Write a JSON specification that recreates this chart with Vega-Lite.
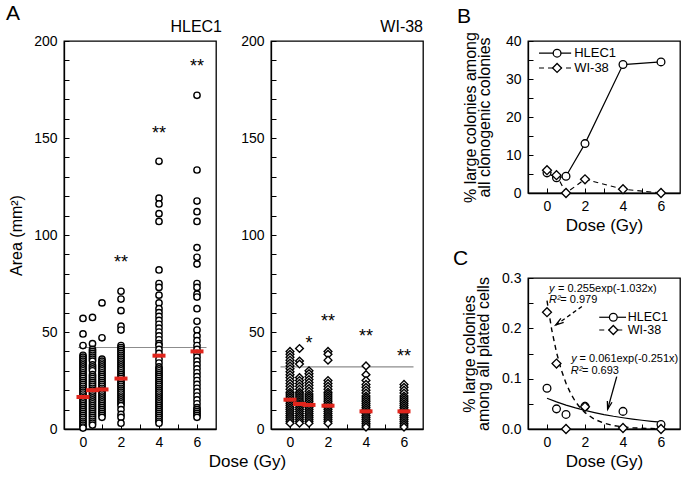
{
"$schema": "https://vega.github.io/schema/vega-lite/v6.json",
"background": "white",
"padding": {"left": 5, "top": 2, "right": 2, "bottom": 2},
"config": {
  "font": "Liberation Sans",
  "view": {"stroke": "black", "strokeWidth": 1.3},
  "axis": {"grid": false, "domainColor": "black", "domainWidth": 1.3, "tickColor": "black", "tickWidth": 1, "tickSize": -5, "labelPadding": 11, "labelFontSize": 14, "labelColor": "black", "titleFontSize": 16, "titleFontWeight": "normal", "titleColor": "black"},
  "axisY": {"labelPadding": 12}
},
"datasets": {
  "hlec": [
    {"dose":0,"val":57},{"dose":0,"val":49},{"dose":0,"val":43},{"dose":0,"val":38},{"dose":0,"val":37},{"dose":0,"val":36},{"dose":0,"val":35},{"dose":0,"val":34},{"dose":0,"val":33},{"dose":0,"val":32},{"dose":0,"val":31},{"dose":0,"val":30},{"dose":0,"val":29},{"dose":0,"val":28},{"dose":0,"val":27},{"dose":0,"val":26},{"dose":0,"val":25},{"dose":0,"val":24},{"dose":0,"val":23},{"dose":0,"val":22},{"dose":0,"val":21},{"dose":0,"val":20},{"dose":0,"val":19},{"dose":0,"val":18},{"dose":0,"val":17},{"dose":0,"val":16},{"dose":0,"val":15},{"dose":0,"val":14},{"dose":0,"val":13},{"dose":0,"val":12},{"dose":0,"val":11},{"dose":0,"val":10},{"dose":0,"val":9},{"dose":0,"val":8},{"dose":0,"val":7},{"dose":0,"val":6},{"dose":0,"val":5},{"dose":0,"val":4},{"dose":0,"val":3},{"dose":0,"val":2},{"dose":0,"val":1},{"dose":0,"val":0.5},
    {"dose":0.5,"val":57.5},{"dose":0.5,"val":44},{"dose":0.5,"val":41},{"dose":0.5,"val":40},{"dose":0.5,"val":39},{"dose":0.5,"val":38},{"dose":0.5,"val":37},{"dose":0.5,"val":36},{"dose":0.5,"val":35},{"dose":0.5,"val":33},{"dose":0.5,"val":32},{"dose":0.5,"val":31},{"dose":0.5,"val":30},{"dose":0.5,"val":28},{"dose":0.5,"val":27},{"dose":0.5,"val":26},{"dose":0.5,"val":25},{"dose":0.5,"val":24},{"dose":0.5,"val":23},{"dose":0.5,"val":22},{"dose":0.5,"val":21},{"dose":0.5,"val":20},{"dose":0.5,"val":19},{"dose":0.5,"val":18},{"dose":0.5,"val":17},{"dose":0.5,"val":16},{"dose":0.5,"val":15},{"dose":0.5,"val":14},{"dose":0.5,"val":13},{"dose":0.5,"val":12},{"dose":0.5,"val":11},{"dose":0.5,"val":10},{"dose":0.5,"val":9},{"dose":0.5,"val":8},{"dose":0.5,"val":7},{"dose":0.5,"val":6},{"dose":0.5,"val":5},{"dose":0.5,"val":4},{"dose":0.5,"val":3},{"dose":0.5,"val":2},
    {"dose":1,"val":65},{"dose":1,"val":47},{"dose":1,"val":36},{"dose":1,"val":35},{"dose":1,"val":34},{"dose":1,"val":33},{"dose":1,"val":32},{"dose":1,"val":31},{"dose":1,"val":30},{"dose":1,"val":29},{"dose":1,"val":28},{"dose":1,"val":27},{"dose":1,"val":26},{"dose":1,"val":25},{"dose":1,"val":24},{"dose":1,"val":23},{"dose":1,"val":22},{"dose":1,"val":21},{"dose":1,"val":20},{"dose":1,"val":19},{"dose":1,"val":18},{"dose":1,"val":17},{"dose":1,"val":16},{"dose":1,"val":15},{"dose":1,"val":14},{"dose":1,"val":13},{"dose":1,"val":12},{"dose":1,"val":11},{"dose":1,"val":10},{"dose":1,"val":9},{"dose":1,"val":8},{"dose":1,"val":7},{"dose":1,"val":6},
    {"dose":2,"val":71},{"dose":2,"val":67},{"dose":2,"val":61},{"dose":2,"val":53},{"dose":2,"val":51},{"dose":2,"val":43},{"dose":2,"val":42},{"dose":2,"val":41},{"dose":2,"val":40},{"dose":2,"val":39},{"dose":2,"val":38},{"dose":2,"val":37},{"dose":2,"val":36},{"dose":2,"val":35},{"dose":2,"val":34},{"dose":2,"val":33},{"dose":2,"val":32},{"dose":2,"val":31},{"dose":2,"val":30},{"dose":2,"val":29},{"dose":2,"val":28},{"dose":2,"val":27},{"dose":2,"val":26},{"dose":2,"val":25},{"dose":2,"val":24},{"dose":2,"val":23},{"dose":2,"val":22},{"dose":2,"val":21},{"dose":2,"val":20},{"dose":2,"val":19},{"dose":2,"val":18},{"dose":2,"val":17},{"dose":2,"val":16},{"dose":2,"val":15},{"dose":2,"val":14},{"dose":2,"val":13},{"dose":2,"val":12},{"dose":2,"val":10},{"dose":2,"val":7.5},{"dose":2,"val":6},{"dose":2,"val":3},
    {"dose":4,"val":138},{"dose":4,"val":119},{"dose":4,"val":116},{"dose":4,"val":111},{"dose":4,"val":107},{"dose":4,"val":82},{"dose":4,"val":75},{"dose":4,"val":73},{"dose":4,"val":69},{"dose":4,"val":65},{"dose":4,"val":62},{"dose":4,"val":60},{"dose":4,"val":58},{"dose":4,"val":56},{"dose":4,"val":54},{"dose":4,"val":52},{"dose":4,"val":50},{"dose":4,"val":48},{"dose":4,"val":46},{"dose":4,"val":44},{"dose":4,"val":43},{"dose":4,"val":41},{"dose":4,"val":39},{"dose":4,"val":36},{"dose":4,"val":34},{"dose":4,"val":32},{"dose":4,"val":31},{"dose":4,"val":30},{"dose":4,"val":29},{"dose":4,"val":28},{"dose":4,"val":27},{"dose":4,"val":26},{"dose":4,"val":25},{"dose":4,"val":24},{"dose":4,"val":23},{"dose":4,"val":22},{"dose":4,"val":21},{"dose":4,"val":20},{"dose":4,"val":19},{"dose":4,"val":18},{"dose":4,"val":17},{"dose":4,"val":16},{"dose":4,"val":15},{"dose":4,"val":14},{"dose":4,"val":13},{"dose":4,"val":12},{"dose":4,"val":11},{"dose":4,"val":10},{"dose":4,"val":9},{"dose":4,"val":8},{"dose":4,"val":7},{"dose":4,"val":6},{"dose":4,"val":5},{"dose":4,"val":4},{"dose":4,"val":3},
    {"dose":6,"val":172},{"dose":6,"val":133.5},{"dose":6,"val":117.5},{"dose":6,"val":112},{"dose":6,"val":107},{"dose":6,"val":93.5},{"dose":6,"val":88.5},{"dose":6,"val":85},{"dose":6,"val":75},{"dose":6,"val":73},{"dose":6,"val":69.5},{"dose":6,"val":68},{"dose":6,"val":62},{"dose":6,"val":55.5},{"dose":6,"val":51},{"dose":6,"val":48},{"dose":6,"val":45.5},{"dose":6,"val":43},{"dose":6,"val":41},{"dose":6,"val":39},{"dose":6,"val":37},{"dose":6,"val":35},{"dose":6,"val":33},{"dose":6,"val":31},{"dose":6,"val":29},{"dose":6,"val":27},{"dose":6,"val":25},{"dose":6,"val":23},{"dose":6,"val":21},{"dose":6,"val":19},{"dose":6,"val":17},{"dose":6,"val":15},{"dose":6,"val":13},{"dose":6,"val":11},{"dose":6,"val":10},{"dose":6,"val":9},{"dose":6,"val":8},{"dose":6,"val":7},{"dose":6,"val":6}
  ],
  "wi": [
    {"dose":0,"val":40},{"dose":0,"val":38.5},{"dose":0,"val":37},{"dose":0,"val":35.5},{"dose":0,"val":34},{"dose":0,"val":32.5},{"dose":0,"val":31},{"dose":0,"val":29.5},{"dose":0,"val":28},{"dose":0,"val":26.5},{"dose":0,"val":25},{"dose":0,"val":23.5},{"dose":0,"val":22},{"dose":0,"val":20.5},{"dose":0,"val":19},{"dose":0,"val":18},{"dose":0,"val":17},{"dose":0,"val":16},{"dose":0,"val":15},{"dose":0,"val":14},{"dose":0,"val":13},{"dose":0,"val":12},{"dose":0,"val":11},{"dose":0,"val":10},{"dose":0,"val":9},{"dose":0,"val":8},{"dose":0,"val":7},{"dose":0,"val":6},{"dose":0,"val":5},{"dose":0,"val":4},{"dose":0,"val":3},
    {"dose":0.5,"val":41.5},{"dose":0.5,"val":35},{"dose":0.5,"val":33.5},{"dose":0.5,"val":26.5},{"dose":0.5,"val":25},{"dose":0.5,"val":23.5},{"dose":0.5,"val":22},{"dose":0.5,"val":20.5},{"dose":0.5,"val":19},{"dose":0.5,"val":18},{"dose":0.5,"val":17},{"dose":0.5,"val":16},{"dose":0.5,"val":15},{"dose":0.5,"val":14},{"dose":0.5,"val":13},{"dose":0.5,"val":12},{"dose":0.5,"val":11},{"dose":0.5,"val":10},{"dose":0.5,"val":9},{"dose":0.5,"val":8},{"dose":0.5,"val":7},{"dose":0.5,"val":6},{"dose":0.5,"val":5},{"dose":0.5,"val":4},{"dose":0.5,"val":3},
    {"dose":1,"val":30},{"dose":1,"val":28.5},{"dose":1,"val":27},{"dose":1,"val":25.5},{"dose":1,"val":24},{"dose":1,"val":22.5},{"dose":1,"val":21},{"dose":1,"val":19.5},{"dose":1,"val":18},{"dose":1,"val":17},{"dose":1,"val":16},{"dose":1,"val":15},{"dose":1,"val":14},{"dose":1,"val":13},{"dose":1,"val":12},{"dose":1,"val":11},{"dose":1,"val":10},{"dose":1,"val":9},{"dose":1,"val":8},{"dose":1,"val":7},{"dose":1,"val":6},{"dose":1,"val":5},{"dose":1,"val":4},{"dose":1,"val":3},
    {"dose":2,"val":40},{"dose":2,"val":38.5},{"dose":2,"val":35.5},{"dose":2,"val":25},{"dose":2,"val":23.5},{"dose":2,"val":22},{"dose":2,"val":20.5},{"dose":2,"val":19},{"dose":2,"val":18},{"dose":2,"val":17},{"dose":2,"val":16},{"dose":2,"val":15},{"dose":2,"val":14},{"dose":2,"val":13},{"dose":2,"val":12},{"dose":2,"val":11},{"dose":2,"val":10},{"dose":2,"val":9},{"dose":2,"val":8},{"dose":2,"val":7},{"dose":2,"val":6},{"dose":2,"val":5},{"dose":2,"val":4},{"dose":2,"val":3},
    {"dose":4,"val":32.5},{"dose":4,"val":28},{"dose":4,"val":25},{"dose":4,"val":23},{"dose":4,"val":21.5},{"dose":4,"val":20},{"dose":4,"val":18.5},{"dose":4,"val":17},{"dose":4,"val":16},{"dose":4,"val":15},{"dose":4,"val":14},{"dose":4,"val":13},{"dose":4,"val":12},{"dose":4,"val":11},{"dose":4,"val":10},{"dose":4,"val":9},{"dose":4,"val":8},{"dose":4,"val":7},{"dose":4,"val":6},{"dose":4,"val":5},{"dose":4,"val":4},{"dose":4,"val":3},{"dose":4,"val":2},{"dose":4,"val":1},
    {"dose":6,"val":23},{"dose":6,"val":21.5},{"dose":6,"val":20},{"dose":6,"val":18.5},{"dose":6,"val":17},{"dose":6,"val":16},{"dose":6,"val":15},{"dose":6,"val":14},{"dose":6,"val":13},{"dose":6,"val":12},{"dose":6,"val":11},{"dose":6,"val":10},{"dose":6,"val":9},{"dose":6,"val":8},{"dose":6,"val":7},{"dose":6,"val":6},{"dose":6,"val":5},{"dose":6,"val":4},{"dose":6,"val":3},{"dose":6,"val":2},{"dose":6,"val":1}
  ],
  "bH": [{"dose":0,"val":5.3},{"dose":0.5,"val":4.0},{"dose":1,"val":4.4},{"dose":2,"val":13},{"dose":4,"val":33.8},{"dose":6,"val":34.5}],
  "bW": [{"dose":0,"val":6.0},{"dose":0.5,"val":4.7},{"dose":1,"val":0},{"dose":2,"val":3.6},{"dose":4,"val":1.0},{"dose":6,"val":0}],
  "cH": [{"dose":0,"val":0.081},{"dose":0.5,"val":0.040},{"dose":1,"val":0.029},{"dose":2,"val":0.045},{"dose":4,"val":0.035},{"dose":6,"val":0.009}],
  "cW": [{"dose":0,"val":0.232},{"dose":0.5,"val":0.130},{"dose":1,"val":0.0},{"dose":2,"val":0.044},{"dose":4,"val":0.002},{"dose":6,"val":0.0}],
  "fitH": [{"dose":0,"val":0.061},{"dose":0.5,"val":0.0538},{"dose":1,"val":0.0475},{"dose":1.5,"val":0.0419},{"dose":2,"val":0.0369},{"dose":2.5,"val":0.0326},{"dose":3,"val":0.0287},{"dose":3.5,"val":0.0253},{"dose":4,"val":0.0224},{"dose":4.5,"val":0.0197},{"dose":5,"val":0.0174},{"dose":5.5,"val":0.0153},{"dose":6,"val":0.0135}],
  "fitW": [{"dose":0,"val":0.255},{"dose":0.25,"val":0.197},{"dose":0.5,"val":0.1522},{"dose":0.75,"val":0.1176},{"dose":1,"val":0.0909},{"dose":1.25,"val":0.0702},{"dose":1.5,"val":0.0542},{"dose":1.75,"val":0.0419},{"dose":2,"val":0.0324},{"dose":2.5,"val":0.0193},{"dose":3,"val":0.0115},{"dose":3.5,"val":0.0069},{"dose":4,"val":0.0041},{"dose":4.5,"val":0.0025},{"dose":5,"val":0.0015},{"dose":5.5,"val":0.0009},{"dose":6,"val":0.0005}]
},
"spacing": 28,
"hconcat": [
 {
  "bounds": "flush",
  "spacing": 55,
  "hconcat": [
   {
    "width": 152, "height": 388,
    "encoding": {
      "x": {"field": "dose", "type": "quantitative", "scale": {"domain": [-1, 7], "nice": false}, "axis": {"values": [0,1,2,3,4,5,6], "labelExpr": "datum.value % 2 === 0 ? datum.label : ''", "title": "Dose (Gy)", "titleX": 183, "titleFontSize": 17}},
      "y": {"field": "val", "type": "quantitative", "scale": {"domain": [0, 200], "nice": false}, "axis": {"values": [0,10,20,30,40,50,60,70,80,90,100,110,120,130,140,150,160,170,180,190,200], "labelExpr": "datum.value % 50 === 0 ? datum.label : ''", "title": "Area (mm²)", "titlePadding": 9}}
    },
    "layer": [
      {"data": {"values": [{"dose": -0.25, "dose2": 6.5, "val": 42}]}, "mark": {"type": "rule", "color": "#8c8c8c", "strokeWidth": 1.2}, "encoding": {"x2": {"field": "dose2"}}},
      {"data": {"name": "hlec"}, "mark": {"type": "point", "shape": "circle", "size": 40, "filled": true, "fill": "white", "stroke": "black", "strokeWidth": 1.4, "opacity": 1}},
      {"data": {"values": [{"dose":0,"val":16.5},{"dose":0.5,"val":20},{"dose":1,"val":20.4},{"dose":2,"val":26},{"dose":4,"val":37.8},{"dose":6,"val":40}]}, "mark": {"type": "tick", "orient": "horizontal", "color": "#e0251c", "size": 13, "thickness": 4, "opacity": 1}},
      {"data": {"values": [{"dose":2,"val":88,"t":"**"},{"dose":4,"val":154.5,"t":"**"},{"dose":6,"val":189,"t":"**"}]}, "mark": {"type": "text", "fontSize": 18, "baseline": "middle", "dy": 5}, "encoding": {"text": {"field": "t"}}},
      {"data": {"values": [{"dose":7,"val":200,"t":"HLEC1"}]}, "mark": {"type": "text", "fontSize": 16, "align": "right", "baseline": "alphabetic", "dx": 6, "dy": -9}, "encoding": {"text": {"field": "t"}}},
      {"data": {"values": [{"dose":-1,"val":200,"t":"A"}]}, "mark": {"type": "text", "fontSize": 21, "align": "left", "baseline": "alphabetic", "dx": -58, "dy": -21}, "encoding": {"text": {"field": "t"}}}
    ]
   },
   {
    "width": 152, "height": 388,
    "encoding": {
      "x": {"field": "dose", "type": "quantitative", "scale": {"domain": [-1, 7], "nice": false}, "axis": {"values": [0,1,2,3,4,5,6], "labelExpr": "datum.value % 2 === 0 ? datum.label : ''", "title": null}},
      "y": {"field": "val", "type": "quantitative", "scale": {"domain": [0, 200], "nice": false}, "axis": {"values": [0,10,20,30,40,50,60,70,80,90,100,110,120,130,140,150,160,170,180,190,200], "labelExpr": "datum.value % 50 === 0 ? datum.label : ''", "title": null}}
    },
    "layer": [
      {"data": {"values": [{"dose": -0.5, "dose2": 6.5, "val": 32}]}, "mark": {"type": "rule", "color": "#8c8c8c", "strokeWidth": 1.2}, "encoding": {"x2": {"field": "dose2"}}},
      {"data": {"name": "wi"}, "mark": {"type": "point", "shape": "diamond", "size": 60, "filled": true, "fill": "white", "stroke": "black", "strokeWidth": 1.4, "opacity": 1}},
      {"data": {"values": [{"dose":0,"val":15.1},{"dose":0.5,"val":12.9},{"dose":1,"val":12.4},{"dose":2,"val":12},{"dose":4,"val":9.1},{"dose":6,"val":9.1}]}, "mark": {"type": "tick", "orient": "horizontal", "color": "#e0251c", "size": 13, "thickness": 4, "opacity": 1}},
      {"data": {"values": [{"dose":1,"val":46.4,"t":"*"},{"dose":2,"val":57.5,"t":"**"},{"dose":4,"val":49.8,"t":"**"},{"dose":6,"val":39.5,"t":"**"}]}, "mark": {"type": "text", "fontSize": 18, "baseline": "middle", "dy": 5}, "encoding": {"text": {"field": "t"}}},
      {"data": {"values": [{"dose":7,"val":200,"t":"WI-38"}]}, "mark": {"type": "text", "fontSize": 16, "align": "right", "baseline": "alphabetic", "dx": 0, "dy": -9}, "encoding": {"text": {"field": "t"}}}
    ]
   }
  ]
 },
 {
  "bounds": "flush",
  "spacing": 85,
  "vconcat": [
   {
    "width": 152, "height": 152,
    "encoding": {
      "x": {"field": "dose", "type": "quantitative", "scale": {"domain": [-1, 7], "nice": false}, "axis": {"values": [0,1,2,3,4,5,6], "labelExpr": "datum.value % 2 === 0 ? datum.label : ''", "title": "Dose (Gy)", "titleFontSize": 17}},
      "y": {"field": "val", "type": "quantitative", "scale": {"domain": [0, 40], "nice": false}, "axis": {"values": [0,5,10,15,20,25,30,35,40], "labelExpr": "datum.value % 10 === 0 ? datum.label : ''", "title": ["% large colonies among", "all clonogenic colonies"], "titleLineHeight": 14, "titlePadding": 13}}
    },
    "layer": [
      {"data": {"name": "bH"}, "mark": {"type": "line", "color": "black", "strokeWidth": 1.2}, "encoding": {}},
      {"data": {"name": "bW"}, "mark": {"type": "line", "color": "black", "strokeWidth": 1.2, "strokeDash": [5, 4]}, "encoding": {}},
      {"data": {"name": "bH"}, "mark": {"type": "point", "shape": "circle", "size": 60, "filled": true, "fill": "white", "stroke": "black", "strokeWidth": 1.3, "opacity": 1}},
      {"data": {"name": "bW"}, "mark": {"type": "point", "shape": "diamond", "size": 80, "filled": true, "fill": "white", "stroke": "black", "strokeWidth": 1.3, "opacity": 1}},
      {"data": {"values": [{"dose": -0.42, "dose2": 1.27, "val": 36.8}]}, "mark": {"type": "rule", "color": "black", "strokeWidth": 1.2}, "encoding": {"x2": {"field": "dose2"}}},
      {"data": {"values": [{"dose": -0.42, "dose2": 1.27, "val": 32.9}]}, "mark": {"type": "rule", "color": "black", "strokeWidth": 1.2, "strokeDash": [5, 4]}, "encoding": {"x2": {"field": "dose2"}}},
      {"data": {"values": [{"dose": 0.53, "val": 36.8}]}, "mark": {"type": "point", "shape": "circle", "size": 60, "filled": true, "fill": "white", "stroke": "black", "strokeWidth": 1.3, "opacity": 1}},
      {"data": {"values": [{"dose": 0.53, "val": 32.9}]}, "mark": {"type": "point", "shape": "diamond", "size": 80, "filled": true, "fill": "white", "stroke": "black", "strokeWidth": 1.3, "opacity": 1}},
      {"data": {"values": [{"dose": 1.43, "val": 36.8, "t": "HLEC1"}, {"dose": 1.43, "val": 32.9, "t": "WI-38"}]}, "mark": {"type": "text", "fontSize": 13, "align": "left", "baseline": "middle"}, "encoding": {"text": {"field": "t"}}},
      {"data": {"values": [{"dose":-1,"val":40,"t":"B"}]}, "mark": {"type": "text", "fontSize": 21, "align": "left", "baseline": "alphabetic", "dx": -71, "dy": -18}, "encoding": {"text": {"field": "t"}}}
    ]
   },
   {
    "width": 152, "height": 151,
    "encoding": {
      "x": {"field": "dose", "type": "quantitative", "scale": {"domain": [-1, 7], "nice": false}, "axis": {"values": [0,1,2,3,4,5,6], "labelExpr": "datum.value % 2 === 0 ? datum.label : ''", "title": "Dose (Gy)", "titleFontSize": 17}},
      "y": {"field": "val", "type": "quantitative", "scale": {"domain": [0, 0.3], "nice": false}, "axis": {"values": [0,0.05,0.1,0.15,0.2,0.25,0.3], "labelExpr": "abs(datum.value*10 - round(datum.value*10)) < 0.001 ? format(datum.value, '.1f') : ''", "title": ["% large colonies", "among all plated cells"], "titleLineHeight": 14, "titlePadding": 10}}
    },
    "layer": [
      {"data": {"name": "fitH"}, "mark": {"type": "line", "color": "black", "strokeWidth": 1.2}, "encoding": {}},
      {"data": {"name": "fitW"}, "mark": {"type": "line", "color": "black", "strokeWidth": 1.4, "strokeDash": [5, 4]}, "encoding": {}},
      {"data": {"values": [{"dose": 1.9, "val": 0.245}, {"dose": 0.46, "val": 0.2066}]}, "mark": {"type": "line", "color": "black", "strokeWidth": 1.3, "strokeDash": [4, 3]}, "encoding": {}},
      {"data": {"values": [{"dose": 0.46, "val": 0.2066}]}, "mark": {"type": "point", "shape": "M-0.6,2 L0,0 L0.6,2", "size": 64, "filled": false, "stroke": "black", "strokeWidth": 1.3, "opacity": 1, "angle": 235}},
      {"data": {"values": [{"dose": 3.67, "val": 0.104}, {"dose": 3.19, "val": 0.039}]}, "mark": {"type": "line", "color": "black", "strokeWidth": 1.3}, "encoding": {}},
      {"data": {"values": [{"dose": 3.19, "val": 0.039}]}, "mark": {"type": "point", "shape": "M-0.6,2 L0,0 L0.6,2", "size": 64, "filled": false, "stroke": "black", "strokeWidth": 1.3, "opacity": 1, "angle": 195}},
      {"data": {"name": "cH"}, "mark": {"type": "point", "shape": "circle", "size": 60, "filled": true, "fill": "white", "stroke": "black", "strokeWidth": 1.3, "opacity": 1}},
      {"data": {"name": "cW"}, "mark": {"type": "point", "shape": "diamond", "size": 80, "filled": true, "fill": "white", "stroke": "black", "strokeWidth": 1.3, "opacity": 1}},
      {"data": {"values": [{"dose": 2.75, "dose2": 4.16, "val": 0.222}]}, "mark": {"type": "rule", "color": "black", "strokeWidth": 1.2}, "encoding": {"x2": {"field": "dose2"}}},
      {"data": {"values": [{"dose": 2.75, "dose2": 4.16, "val": 0.1967}]}, "mark": {"type": "rule", "color": "black", "strokeWidth": 1.2, "strokeDash": [5, 4]}, "encoding": {"x2": {"field": "dose2"}}},
      {"data": {"values": [{"dose": 3.49, "val": 0.222}]}, "mark": {"type": "point", "shape": "circle", "size": 60, "filled": true, "fill": "white", "stroke": "black", "strokeWidth": 1.3, "opacity": 1}},
      {"data": {"values": [{"dose": 3.49, "val": 0.1967}]}, "mark": {"type": "point", "shape": "diamond", "size": 80, "filled": true, "fill": "white", "stroke": "black", "strokeWidth": 1.3, "opacity": 1}},
      {"data": {"values": [{"dose": 4.25, "val": 0.222, "t": "HLEC1"}, {"dose": 4.25, "val": 0.1967, "t": "WI-38"}]}, "mark": {"type": "text", "fontSize": 12.5, "align": "left", "baseline": "middle"}, "encoding": {"text": {"field": "t"}}},
      {"data": {"values": [{"dose": 0.11, "val": 0.2728, "t": "y"}, {"dose": 1.27, "val": 0.1325, "t": "y"}, {"dose": 0.11, "val": 0.2497, "t": "R²"}, {"dose": 1.25, "val": 0.1087, "t": "R²"}]}, "mark": {"type": "text", "fontSize": 11, "fontStyle": "italic", "align": "left", "baseline": "alphabetic"}, "encoding": {"text": {"field": "t"}}},
      {"data": {"values": [{"dose": 0.58, "val": 0.2728, "t": "= 0.255exp(-1.032x)"}, {"dose": 1.71, "val": 0.1325, "t": "= 0.061exp(-0.251x)"}, {"dose": 0.7, "val": 0.2497, "t": "= 0.979"}, {"dose": 1.84, "val": 0.1087, "t": "= 0.693"}]}, "mark": {"type": "text", "fontSize": 11, "align": "left", "baseline": "alphabetic"}, "encoding": {"text": {"field": "t"}}},
      {"data": {"values": [{"dose":-1,"val":0.3,"t":"C"}]}, "mark": {"type": "text", "fontSize": 21, "align": "left", "baseline": "alphabetic", "dx": -75, "dy": -13}, "encoding": {"text": {"field": "t"}}}
    ]
   }
  ]
 }
]
}
